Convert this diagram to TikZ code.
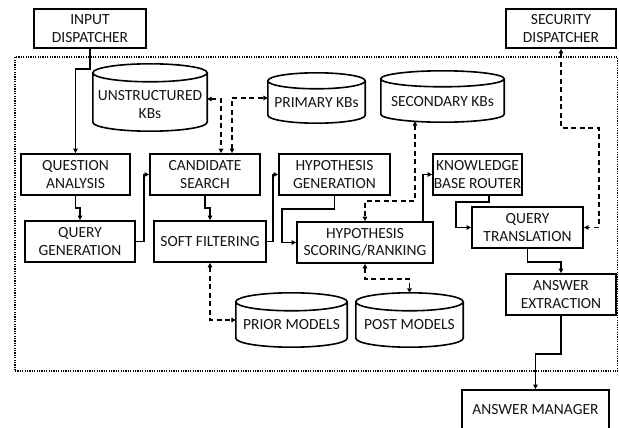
\documentclass[tikz,border=0pt]{standalone}
\usepackage{fontspec}
\setmainfont{Carlito}
\usetikzlibrary{arrows.meta,calc}
\newcommand\drawcyl[2]{%
  \draw[cylline] let \p1=(#1.north west), \p2=(#1.south east), \n1={(\x2-\x1)/2} in
    (\x1,\y1-#2pt) -- (\x1,\y2+#2pt)
    arc[start angle=180,end angle=360,x radius=\n1,y radius=#2pt]
    -- (\x2,\y1-#2pt)
    (\x1+\n1,\y1-#2pt) ellipse[x radius=\n1,y radius=#2pt];}
\begin{document}
\begin{tikzpicture}[x=1pt,y=-1pt,
  txt/.style={font=\fontsize{15.5}{17.5}\selectfont,align=center,text=black!92},
  box/.style={txt,draw,line width=1.8pt,inner sep=0pt},
  cylbox/.style={inner sep=0pt},
  cylline/.style={line width=1.6pt},
  conn/.style={line width=1.5pt,-{Triangle[length=4.5pt,width=4.5pt]}},
  dconn/.style={line width=1.5pt,dash pattern=on 5pt off 3.5pt,{Triangle[length=4.5pt,width=4.5pt]}-{Triangle[length=4.5pt,width=4.5pt]}},
  frame/.style={draw,line width=1.2pt,dash pattern=on 1.2pt off 1.2pt,inner sep=0pt}]
\useasboundingbox (0,0) rectangle (619,428);
% dotted frame
\node[frame,minimum width=602.5pt,minimum height=314pt] (fr) at (316.25,214) {};
% boxes
\node[box,minimum width=112pt,minimum height=39pt] (inp) at (90,28.5) {INPUT\\DISPATCHER};
\node[box,minimum width=110pt,minimum height=39pt] (sec) at (561,28.5) {SECURITY\\DISPATCHER};
\node[box,minimum width=109pt,minimum height=41pt] (qa) at (75.5,174.5) {QUESTION\\ANALYSIS};
\node[box,minimum width=110pt,minimum height=41pt] (qg) at (80,241.5) {QUERY\\GENERATION};
\node[box,minimum width=110pt,minimum height=41pt] (cs) at (205,174.5) {CANDIDATE\\SEARCH};
\node[box,minimum width=112pt,minimum height=41pt] (sf) at (210,241.5) {SOFT FILTERING};
\node[box,minimum width=111pt,minimum height=41pt] (hg) at (334.5,174.5) {HYPOTHESIS\\GENERATION};
\node[box,minimum width=136pt,minimum height=41pt] (hsr) at (365,242.5) {HYPOTHESIS\\SCORING/RANKING};
\node[box,minimum width=89pt,minimum height=41pt] (kbr) at (477.5,174.5) {KNOWLEDGE\\BASE ROUTER};
\node[box,minimum width=111pt,minimum height=41pt] (qt) at (527.5,227.5) {QUERY\\TRANSLATION};
\node[box,minimum width=110pt,minimum height=41pt] (ae) at (561,294.5) {ANSWER\\EXTRACTION};
\node[box,minimum width=147pt,minimum height=40pt] (am) at (535.5,410) {ANSWER MANAGER};
% cylinders
\node[cylbox,minimum width=114pt,minimum height=67pt] (ukb) at (150,97.5) {};
\node[cylbox,minimum width=97pt,minimum height=50pt] (pkb) at (316.5,98) {};
\node[cylbox,minimum width=123pt,minimum height=51pt] (skb) at (442.5,96.5) {};
\node[cylbox,minimum width=111pt,minimum height=54pt] (prior) at (291.5,320) {};
\node[cylbox,minimum width=107pt,minimum height=54pt] (post) at (409.5,320) {};
\drawcyl{ukb}{9}
\drawcyl{pkb}{8}
\drawcyl{skb}{8}
\drawcyl{prior}{9}
\drawcyl{post}{9}
\node[txt] (ukbt) at ($(ukb.center)+(0,7)$) {UNSTRUCTURED\\KBs};
\node[txt] (pkbt) at ($(pkb.center)+(0,5)$) {PRIMARY KBs};
\node[txt] (skbt) at ($(skb.center)+(0,5.5)$) {SECONDARY KBs};
\node[txt] (priort) at ($(prior.center)+(0,5)$) {PRIOR MODELS};
\node[txt] (postt) at ($(post.center)+(0,5)$) {POST MODELS};
% solid connectors
\draw[conn] (inp.south) -- ++(0,20) -| (qa.north);
\draw[conn] (qa.south) -- ++(0,12) -| (qg.north);
\draw[conn] (qg.east) -- ++(8,0) |- (cs.west);
\draw[conn] (cs.south) -- ++(0,12) -| (sf.north);
\draw[conn] (sf.east) -- ++(6,0) |- (hg.west);
\draw[conn] (hg.south) -- ++(0,13) -| ([xshift=-14pt]hsr.west) -- (hsr.west);
\draw[conn] ([xshift=-11pt]hsr.north east) |- (kbr.west);
\draw[conn] ([xshift=11.5pt]kbr.south) -- ++(0,6) -| ([xshift=-15pt]qt.west) -- (qt.west);
\draw[conn] (qt.south) -- ++(0,13) -| (ae.north);
\draw[conn] (ae.south) -- ++(0,38) -| (am.north);
% dashed connectors
\draw[dconn] ([yshift=-1.5pt]ukb.east) -| ([xshift=16pt]cs.north);
\draw[dconn] ([xshift=27pt]cs.north) |- (pkb.west);
\draw[dconn] ([xshift=-27.5pt,yshift=1pt]skb.south) -- ++(0,80) -| (hsr.north);
\draw[dconn] (sec.south) -- ++(0,79) -| ([xshift=15pt]qt.east) -- (qt.east);
\draw[dconn] (sf.south) |- (prior.west);
\draw[dconn] (hsr.south) -- ++(0,15) -| (post.north);
\end{tikzpicture}
\end{document}
